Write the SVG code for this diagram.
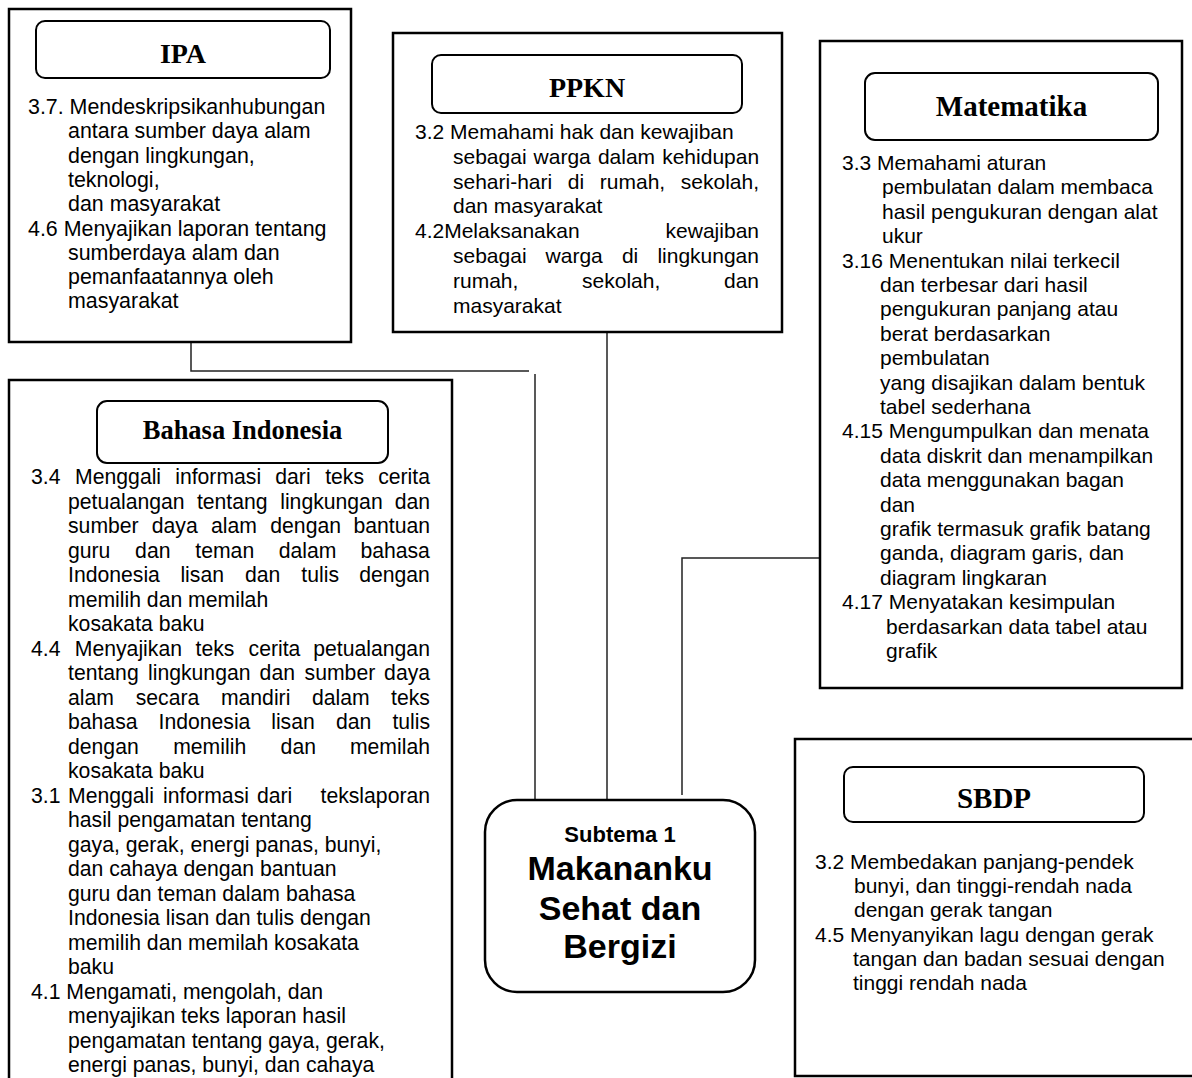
<svg xmlns="http://www.w3.org/2000/svg" width="1192" height="1078" viewBox="0 0 1192 1078">
  <style>
    .box { fill: #fff; stroke: #000; stroke-width: 2.5; }
    .hdr { fill: #fff; stroke: #000; stroke-width: 2; }
    .ht { font-family: "Liberation Serif", "Times New Roman", serif; font-weight: bold; text-anchor: middle; fill: #000; }
    .bt { font-family: "Liberation Sans", Arial, sans-serif; font-size: 21px; fill: #000; }
    .ct { font-family: "Liberation Sans", Arial, sans-serif; font-weight: bold; text-anchor: middle; fill: #000; }
    .conn { fill: none; stroke: #222; stroke-width: 1.5; }
  </style>

  <rect width="1192" height="1078" fill="#fff"/>

  <!-- connectors between subject boxes and the central theme -->
  <g id="connectors">
    <polyline class="conn" points="191,342 191,371 529,371"/>
    <line class="conn" x1="535" y1="374" x2="535" y2="800"/>
    <line class="conn" x1="607" y1="332" x2="607" y2="800"/>
    <polyline class="conn" points="820,558 682,558 682,795"/>
  </g>

  <!-- IPA -->
  <g id="ipa">
    <rect class="box" x="9" y="9" width="342" height="333"/>
    <rect class="hdr" x="36" y="21" width="294" height="57" rx="9"/>
    <text class="ht" x="183" y="63" font-size="28">IPA</text>
    <text class="bt" style="font-size:21.4px">
      <tspan x="28" y="114">3.7. Mendeskripsikanhubungan</tspan>
      <tspan x="68" y="138.3">antara sumber daya alam</tspan>
      <tspan x="68" y="162.6">dengan lingkungan,</tspan>
      <tspan x="68" y="186.9">teknologi,</tspan>
      <tspan x="68" y="211.2">dan masyarakat</tspan>
      <tspan x="28" y="235.5">4.6 Menyajikan laporan tentang</tspan>
      <tspan x="68" y="259.8">sumberdaya alam dan</tspan>
      <tspan x="68" y="284.1">pemanfaatannya oleh</tspan>
      <tspan x="68" y="308.4">masyarakat</tspan>
    </text>
  </g>

  <!-- PPKN -->
  <g id="ppkn">
    <rect class="box" x="393" y="33" width="389" height="299"/>
    <rect class="hdr" x="432" y="55" width="310" height="58" rx="9"/>
    <text class="ht" x="587" y="97" font-size="28">PPKN</text>
    <text class="bt">
      <tspan x="415" y="139">3.2 Memahami hak dan kewajiban</tspan>
      <tspan x="453" y="163.8">sebagai </tspan><tspan x="533.6" y="163.8">warga </tspan><tspan x="597.9" y="163.8">dalam </tspan><tspan x="662.2" y="163.8">kehidupan</tspan>
      <tspan x="453" y="188.6">sehari-hari </tspan><tspan x="567.8" y="188.6">di </tspan><tspan x="599.8" y="188.6">rumah, </tspan><tspan x="680.8" y="188.6">sekolah,</tspan>
      <tspan x="453" y="213.4">dan masyarakat</tspan>
      <tspan x="415" y="238.2">4.2Melaksanakan </tspan><tspan x="665.6" y="238.2">kewajiban</tspan>
      <tspan x="453" y="263">sebagai </tspan><tspan x="545.6" y="263">warga </tspan><tspan x="621.9" y="263">di </tspan><tspan x="657.4" y="263">lingkungan</tspan>
      <tspan x="453" y="287.8">rumah, </tspan><tspan x="582.1" y="287.8">sekolah, </tspan><tspan x="724" y="287.8">dan</tspan>
      <tspan x="453" y="312.6">masyarakat</tspan>
    </text>
  </g>

  <!-- Matematika -->
  <g id="matematika">
    <rect class="box" x="820" y="41" width="362" height="647"/>
    <rect class="hdr" x="865" y="73" width="293" height="67" rx="10"/>
    <text class="ht" x="1011.5" y="116" font-size="29">Matematika</text>
    <text class="bt">
      <tspan x="842" y="170">3.3 Memahami aturan</tspan>
      <tspan x="882" y="194.4">pembulatan dalam membaca</tspan>
      <tspan x="882" y="218.8">hasil pengukuran dengan alat</tspan>
      <tspan x="882" y="243.2">ukur</tspan>
      <tspan x="842" y="267.6">3.16 Menentukan nilai terkecil</tspan>
      <tspan x="880" y="292">dan terbesar dari hasil</tspan>
      <tspan x="880" y="316.4">pengukuran panjang atau</tspan>
      <tspan x="880" y="340.8">berat berdasarkan</tspan>
      <tspan x="880" y="365.2">pembulatan</tspan>
      <tspan x="880" y="389.6">yang disajikan dalam bentuk</tspan>
      <tspan x="880" y="414">tabel sederhana</tspan>
      <tspan x="842" y="438.4">4.15 Mengumpulkan dan menata</tspan>
      <tspan x="880" y="462.8">data diskrit dan menampilkan</tspan>
      <tspan x="880" y="487.2">data menggunakan bagan</tspan>
      <tspan x="880" y="511.6">dan</tspan>
      <tspan x="880" y="536">grafik termasuk grafik batang</tspan>
      <tspan x="880" y="560.4">ganda, diagram garis, dan</tspan>
      <tspan x="880" y="584.8">diagram lingkaran</tspan>
      <tspan x="842" y="609.2">4.17 Menyatakan kesimpulan</tspan>
      <tspan x="886" y="633.6">berdasarkan data tabel atau</tspan>
      <tspan x="886" y="658">grafik</tspan>
    </text>
  </g>

  <!-- Bahasa Indonesia -->
  <g id="bahasa-indonesia">
    <rect class="box" x="9" y="380" width="443" height="720"/>
    <rect class="hdr" x="97" y="401" width="291" height="62" rx="10"/>
    <text class="ht" x="242.5" y="439" font-size="26.5">Bahasa Indonesia</text>
    <text class="bt" style="font-size:21.2px">
      <tspan x="31" y="484">3.4 </tspan><tspan x="75.1" y="484">Menggali </tspan><tspan x="175.2" y="484">informasi </tspan><tspan x="275.3" y="484">dari </tspan><tspan x="325.2" y="484">teks </tspan><tspan x="378.2" y="484">cerita</tspan>
      <tspan x="68" y="508.5">petualangan </tspan><tspan x="196.9" y="508.5">tentang </tspan><tspan x="280.2" y="508.5">lingkungan </tspan><tspan x="394.7" y="508.5">dan</tspan>
      <tspan x="68" y="533">sumber </tspan><tspan x="151.8" y="533">daya </tspan><tspan x="211" y="533">alam </tspan><tspan x="270.3" y="533">dengan </tspan><tspan x="353.4" y="533">bantuan</tspan>
      <tspan x="68" y="557.5">guru </tspan><tspan x="135.1" y="557.5">dan </tspan><tspan x="195.3" y="557.5">teman </tspan><tspan x="278.8" y="557.5">dalam </tspan><tspan x="360.4" y="557.5">bahasa</tspan>
      <tspan x="68" y="582">Indonesia </tspan><tspan x="180.4" y="582">lisan </tspan><tspan x="244.9" y="582">dan </tspan><tspan x="301.3" y="582">tulis </tspan><tspan x="359.2" y="582">dengan</tspan>
      <tspan x="68" y="606.5">memilih dan memilah</tspan>
      <tspan x="68" y="631">kosakata baku</tspan>
      <tspan x="31" y="655.5">4.4 </tspan><tspan x="74.8" y="655.5">Menyajikan </tspan><tspan x="195.5" y="655.5">teks </tspan><tspan x="248.6" y="655.5">cerita </tspan><tspan x="313.3" y="655.5">petualangan</tspan>
      <tspan x="68" y="680">tentang </tspan><tspan x="148" y="680">lingkungan </tspan><tspan x="259.6" y="680">dan </tspan><tspan x="304.6" y="680">sumber </tspan><tspan x="384.1" y="680">daya</tspan>
      <tspan x="68" y="704.5">alam </tspan><tspan x="135.7" y="704.5">secara </tspan><tspan x="220.9" y="704.5">mandiri </tspan><tspan x="311.9" y="704.5">dalam </tspan><tspan x="391.1" y="704.5">teks</tspan>
      <tspan x="68" y="729">bahasa </tspan><tspan x="158.5" y="729">Indonesia </tspan><tspan x="271.2" y="729">lisan </tspan><tspan x="336" y="729">dan </tspan><tspan x="392.4" y="729">tulis</tspan>
      <tspan x="68" y="753.5">dengan </tspan><tspan x="173.2" y="753.5">memilih </tspan><tspan x="280.6" y="753.5">dan </tspan><tspan x="349.9" y="753.5">memilah</tspan>
      <tspan x="68" y="778">kosakata baku</tspan>
      <tspan x="31" y="802.5">3.1 </tspan><tspan x="68" y="802.5">Menggali </tspan><tspan x="163" y="802.5">informasi </tspan><tspan x="257" y="802.5">dari </tspan><tspan x="320.5" y="802.5">tekslaporan</tspan>
      <tspan x="68" y="827">hasil pengamatan tentang</tspan>
      <tspan x="68" y="851.5">gaya, gerak, energi panas, bunyi,</tspan>
      <tspan x="68" y="876">dan cahaya dengan bantuan</tspan>
      <tspan x="68" y="900.5">guru dan teman dalam bahasa</tspan>
      <tspan x="68" y="925">Indonesia lisan dan tulis dengan</tspan>
      <tspan x="68" y="949.5">memilih dan memilah kosakata</tspan>
      <tspan x="68" y="974">baku</tspan>
      <tspan x="31" y="998.5">4.1 Mengamati, mengolah, dan</tspan>
      <tspan x="68" y="1023">menyajikan teks laporan hasil</tspan>
      <tspan x="68" y="1047.5">pengamatan tentang gaya, gerak,</tspan>
      <tspan x="68" y="1072">energi panas, bunyi, dan cahaya</tspan>
    </text>
  </g>

  <!-- SBDP -->
  <g id="sbdp">
    <rect class="box" x="795" y="739" width="420" height="337"/>
    <rect class="hdr" x="844" y="767" width="300" height="55" rx="9"/>
    <text class="ht" x="994" y="808" font-size="29">SBDP</text>
    <text class="bt">
      <tspan x="815" y="869">3.2 Membedakan panjang-pendek</tspan>
      <tspan x="854" y="893.2">bunyi, dan tinggi-rendah nada</tspan>
      <tspan x="854" y="917.4">dengan gerak tangan</tspan>
      <tspan x="815" y="941.6">4.5 Menyanyikan lagu dengan gerak</tspan>
      <tspan x="853" y="965.8">tangan dan badan sesuai dengan</tspan>
      <tspan x="853" y="990">tinggi rendah nada</tspan>
    </text>
  </g>

  <!-- central theme -->
  <g id="subtema">
    <rect class="box" x="485" y="800" width="270" height="192" rx="32"/>
    <text class="ct" x="620" y="842" font-size="22">Subtema 1</text>
    <text class="ct" x="620" y="880" font-size="34">Makananku</text>
    <text class="ct" x="620" y="920" font-size="34">Sehat dan</text>
    <text class="ct" x="620" y="958" font-size="34">Bergizi</text>
  </g>
</svg>
